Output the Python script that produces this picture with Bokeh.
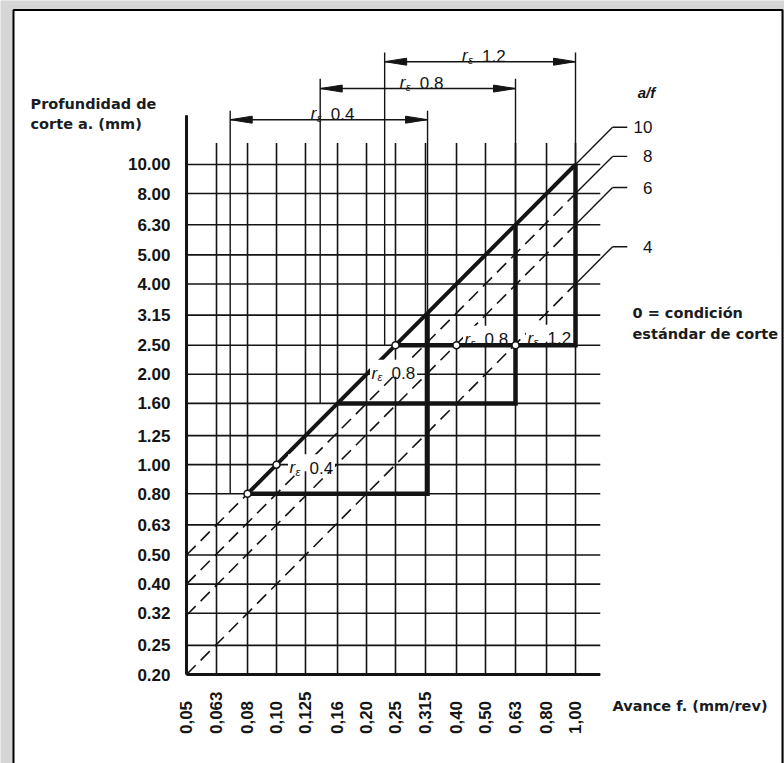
import numpy as np
from math import pi
from bokeh.plotting import figure
from bokeh.models import Range1d, FixedTicker
from bokeh.core.properties import value
from bokeh.embed import file_html
from bokeh.resources import INLINE

# ---------------- data ----------------
feed_ticks = [0.05, 0.063, 0.08, 0.10, 0.125, 0.16, 0.20, 0.25, 0.315, 0.40, 0.50, 0.63, 0.80, 1.00]
feed_tick_labels = ["0,05", "0,063", "0,08", "0,10", "0,125", "0,16", "0,20", "0,25",
                    "0,315", "0,40", "0,50", "0,63", "0,80", "1,00"]
depth_ticks = [0.20, 0.25, 0.32, 0.40, 0.50, 0.63, 0.80, 1.00, 1.25, 1.60, 2.00, 2.50,
               3.15, 4.00, 5.00, 6.30, 8.00, 10.00]
depth_tick_labels = ["0.20", "0.25", "0.32", "0.40", "0.50", "0.63", "0.80", "1.00", "1.25",
                     "1.60", "2.00", "2.50", "3.15", "4.00", "5.00", "6.30", "8.00", "10.00"]

af_ratio = [10, 8, 6.3, 4]            # a/f lines
af_ratio_label = ["10", "8", "6", "4"]
af_dash_from = [0.05, 0.05, 0.05, 0.05]
af_dash_to = [0.08, 1.00, 1.00, 1.00]
af_line_end = 1.33                     # feed where the a/f lines turn into leaders
af_leader_end = 1.49

nose_radius_label = ["0.4", "0.8", "1.2"]
nose_feed_min = [0.07, 0.14, 0.23]
nose_feed_max = [0.32, 0.63, 1.00]
nose_depth_min = [0.80, 1.60, 2.50]
hyp_ratio = 10

std_feed = [0.08, 0.10, 0.25, 0.40, 0.63]
std_depth = [0.80, 1.00, 2.50, 2.50, 2.50]
std_label = ["", "0.4", "0.8", "0.8", "1.2"]

# ---------------- layout / style ----------------
W, H = 784, 763
PXX, PXY = 299.0, 300.2          # pixels per decade
X_ORG, Y_ORG = 186, 674          # canvas px of (0.05, 0.20)
F0, A0 = 0.05, 0.20

def fx(px):
    return F0 * 10 ** ((px - X_ORG) / PXX)

def fy(py):
    return A0 * 10 ** ((Y_ORG - py) / PXY)

def shx(f, px):
    return np.asarray(f, dtype=float) * 10 ** (np.asarray(px, dtype=float) / PXX)

def shy(a, px):  # positive px = downwards on screen
    return np.asarray(a, dtype=float) * 10 ** (-np.asarray(px, dtype=float) / PXY)

grid_feed_end = 1.21
grid_depth_end = 11.8
axis_depth_end = 14.6
dim_depth = [14.1, 17.9, 22.0]
ext_depth = [15.1, 19.3, 23.6]

INK = "#141414"
TICK_FONT = value("Liberation Sans")
NOTE_FONT = value("DejaVu Sans")

p = figure(width=W, height=H, x_axis_type="log", y_axis_type="log",
           x_range=Range1d(F0 * 10 ** (-X_ORG / PXX), F0 * 10 ** ((W - X_ORG) / PXX)),
           y_range=Range1d(A0 * 10 ** (-(H - Y_ORG) / PXY), A0 * 10 ** (Y_ORG / PXY)),
           output_backend="svg", toolbar_location=None, min_border=0)
p.grid.visible = False
p.outline_line_color = None
p.background_fill_color = "#d6d6d6"
p.border_fill_color = "#d6d6d6"

# picture frame
p.quad(left=[fx(13)], right=[fx(782)], top=[fy(9.5)], bottom=[fy(820)],
       fill_color="white", line_color="black", line_width=2)

# axes (placed at the data origin)
xa, ya = p.xaxis[0], p.yaxis[0]
xa.fixed_location = A0
ya.fixed_location = F0
for ax, ticks in ((xa, feed_ticks), (ya, depth_ticks)):
    ax.ticker = FixedTicker(ticks=ticks)
    ax.axis_line_color = None
    ax.major_tick_line_color = None
    ax.minor_tick_line_color = None
    ax.major_label_text_font = "Liberation Sans"
    ax.major_label_text_font_size = "17px"
    ax.major_label_text_font_style = "bold"
    ax.major_label_text_color = INK
maxlen = max(len(s) for s in feed_tick_labels)
xa.major_label_overrides = {t: s + "\u00a0\u00a0" * (maxlen - len(s)) for t, s in zip(feed_ticks, feed_tick_labels)}
ya.major_label_overrides = {t: s for t, s in zip(depth_ticks, depth_tick_labels)}
xa.major_label_orientation = pi / 2
xa.major_label_standoff = 11
ya.major_label_standoff = 10

# grid
p.segment(x0=feed_ticks, x1=feed_ticks, y0=[A0] * len(feed_ticks), y1=[grid_depth_end] * len(feed_ticks),
          line_color=INK, line_width=1.6)
p.segment(x0=[F0] * len(depth_ticks), x1=[grid_feed_end] * len(depth_ticks), y0=depth_ticks, y1=depth_ticks,
          line_color=INK, line_width=1.6)
p.segment(x0=[F0, F0], x1=[F0, grid_feed_end], y0=[A0, A0], y1=[axis_depth_end, A0],
          line_color=INK, line_width=3)

# a/f lines
r = np.array(af_ratio, dtype=float)
p.segment(x0=af_dash_from, x1=af_dash_to, y0=r * np.array(af_dash_from), y1=r * np.array(af_dash_to),
          line_color=INK, line_width=1.6, line_dash="13 7")
p.segment(x0=[1.0] * 4, x1=[af_line_end] * 4, y0=r * 1.0, y1=r * af_line_end,
          line_color=INK, line_width=1.4)
p.segment(x0=[af_line_end] * 4, x1=[af_leader_end] * 4, y0=r * af_line_end, y1=r * af_line_end,
          line_color=INK, line_width=1.4)
p.text(x=[fx(652)] * 4, y=list(r * af_line_end), text=af_ratio_label, text_align="right",
       text_baseline="middle", text_font=TICK_FONT, text_font_size="17px", text_color=INK)
p.text(x=[fx(646)], y=[fy(92)], text=["a/f"], text_align="center", text_baseline="middle",
       text_font=TICK_FONT, text_font_size="15px", text_font_style="bold italic", text_color=INK)

# nose radius zones
fmin = np.array(nose_feed_min); fmax = np.array(nose_feed_max); amin = np.array(nose_depth_min)
fvert = amin / hyp_ratio
dd = np.array(dim_depth); ed = np.array(ext_depth)
# extension lines
p.segment(x0=fmin, x1=fmin, y0=amin, y1=ed, line_color=INK, line_width=1.4)
p.segment(x0=fmax, x1=fmax, y0=fmax * hyp_ratio, y1=ed, line_color=INK, line_width=1.4)
# dimension lines + arrow heads
p.segment(x0=fmin, x1=fmax, y0=dd, y1=dd, line_color=INK, line_width=1.5)
heads_x, heads_y = [], []
for f0, f1, d in zip(fmin, fmax, dd):
    heads_x.append([f0, shx(f0, 22), shx(f0, 22)]); heads_y.append([d, shy(d, -3.5), shy(d, 3.5)])
    heads_x.append([f1, shx(f1, -22), shx(f1, -22)]); heads_y.append([d, shy(d, -3.5), shy(d, 3.5)])
p.patches(xs=heads_x, ys=heads_y, fill_color=INK, line_color=INK, line_width=1)
# thick triangles
p.multi_line(xs=[[a, b, b] for a, b in zip(fvert, fmax)],
             ys=[[a, a, b * hyp_ratio] for a, b in zip(amin, fmax)],
             line_color=INK, line_width=4.5, line_join="miter")
p.line(x=[fvert[0], fmax[-1]], y=[fvert[0] * hyp_ratio, fmax[-1] * hyp_ratio], line_color=INK, line_width=4)

# r_eps labels
lab_f, lab_a, lab_t = [], [], []
centre = np.sqrt(fmin * fmax)
for c, d, t in zip(centre, dd, nose_radius_label):
    lab_f.append(shx(c, -18)); lab_a.append(shy(d, -6)); lab_t.append(t)
box_f, box_a = [], []
std_dx = [0, 13, -24, 8, 12]
std_dy = [0, 3, 28, -6, -7]
for f, a, t, dx, dy in zip(std_feed, std_depth, std_label, std_dx, std_dy):
    if t:
        lf, la = shx(f, dx), shy(a, dy)
        lab_f.append(lf); lab_a.append(la); lab_t.append(t)
        box_f.append(shx(lf, 22)); box_a.append(shy(la, -5))
p.rect(x=box_f, y=box_a, width=47, height=17, width_units="screen", height_units="screen",
       fill_color="white", line_color=None)
p.text(x=lab_f, y=lab_a, text=["r"] * len(lab_f), text_baseline="alphabetic", text_align="left",
       text_font=TICK_FONT, text_font_size="17px", text_font_style="italic", text_color=INK)
p.text(x=list(shx(lab_f, 6)), y=list(shy(lab_a, 4)), text=["ε"] * len(lab_f), text_baseline="alphabetic",
       text_align="left", text_font=TICK_FONT, text_font_size="11px", text_font_style="italic", text_color=INK)
p.text(x=list(shx(lab_f, 20)), y=lab_a, text=lab_t, text_baseline="alphabetic", text_align="left",
       text_font=TICK_FONT, text_font_size="17px", text_color=INK)

# standard cutting condition points
p.scatter(x=std_feed, y=std_depth, marker="circle", size=7, fill_color="white", line_color=INK, line_width=1.5)

# notes
notes = [("Profundidad de", 30, 103), ("corte a. (mm)", 30, 123), ("Avance f. (mm/rev)", 612, 705),
         ("0 = condición", 632, 312), ("estándar de corte", 632, 333)]
p.text(x=[fx(n[1]) for n in notes], y=[fy(n[2]) for n in notes], text=[n[0] for n in notes],
       text_align="left", text_baseline="middle", text_font=NOTE_FONT, text_font_size="14.5px",
       text_font_style="bold", text_color="#1b1b22")

open("out.html", "w").write(file_html(p, INLINE))
